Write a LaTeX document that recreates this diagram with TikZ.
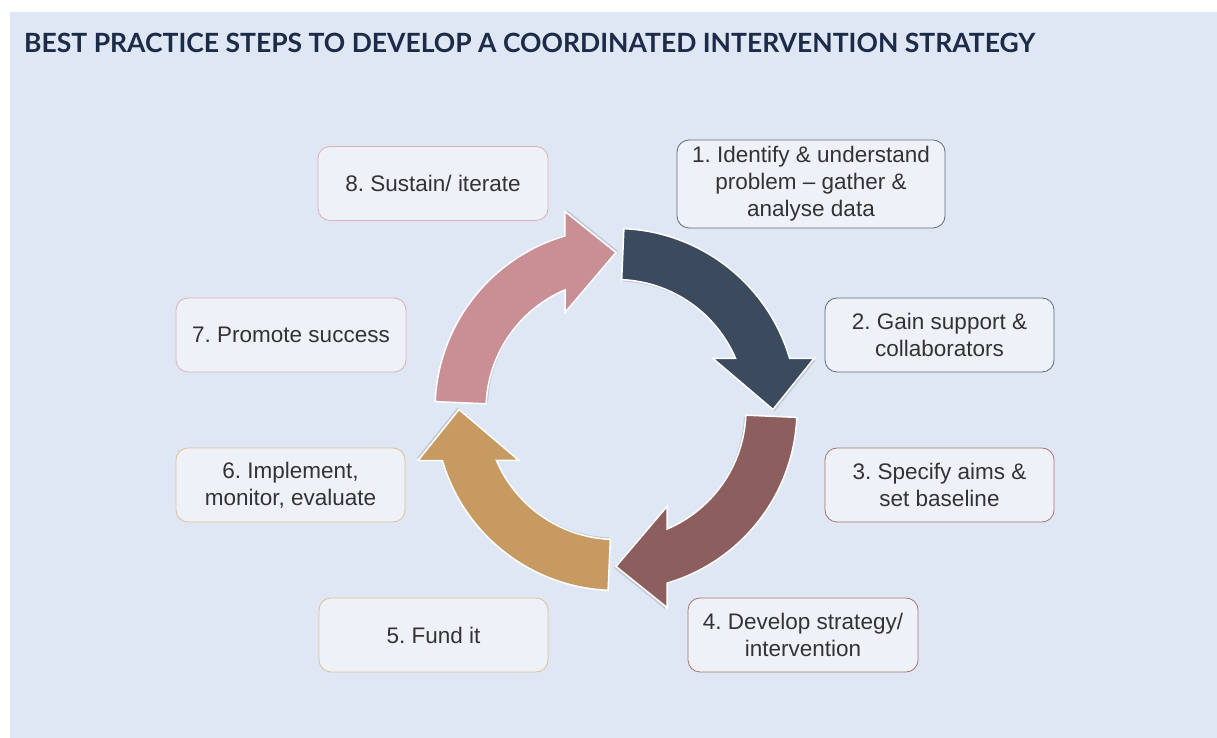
\documentclass[tikz,border=0pt]{standalone}
\usepackage{fontspec}
\setmainfont{Liberation Sans}
\newfontfamily\titlefont{Lato}
\definecolor{bgblue}{HTML}{DEE7F3}
\definecolor{titleblue}{HTML}{1C2B47}
\definecolor{boxfill}{HTML}{EEF2F8}
\definecolor{txt}{HTML}{333333}
\definecolor{arrA}{HTML}{3C4A5E}
\definecolor{arrB}{HTML}{8C5E5E}
\definecolor{arrC}{HTML}{C69A60}
\definecolor{arrD}{HTML}{C98F95}
\definecolor{edgeA}{HTML}{5E6A7C}
\definecolor{edgeB}{HTML}{A87474}
\definecolor{edgeC}{HTML}{DDC09A}
\definecolor{edgeD}{HTML}{DDB0B5}
\tikzset{
  stepbox/.style={draw, fill=boxfill, rounded corners=12pt, line width=0.8pt,
    align=center, text=txt, inner sep=0pt,
    font=\fontsize{22.5}{27}\selectfont},
  cyclearrow/.style={draw=white, line width=1.5pt, line join=miter},
}
\frenchspacing
\begin{document}
\begin{tikzpicture}[x=1pt,y=1pt]
\useasboundingbox (0,0) rectangle (1217,738);
\fill[white] (0,0) rectangle (1217,738);
\fill[bgblue] (10,0) rectangle (1217,726);
\node[anchor=base west, inner sep=0pt, text=titleblue,
  font=\titlefont\bfseries\fontsize{26.5}{31}\selectfont] (title) at (24,685)
  {BEST PRACTICE STEPS TO DEVELOP A COORDINATED INTERVENTION STRATEGY};
% cycle arrows
\foreach \k/\col in {0/arrA,1/arrB,2/arrC,3/arrD}{
  \begin{scope}[shift={(616,328.5)}, rotate=-90*\k]
    \fill[black, opacity=0.12, shift={(1.5pt,-2pt)}]
      (87.5:181pt) arc[start angle=87.5, end angle=16.4, radius=181pt]
      -- (198,51) -- (157,0) -- (97,51) -- (23.1:130pt)
      arc[start angle=23.1, end angle=87.5, radius=130pt] -- cycle;
    \filldraw[cyclearrow, fill=\col]
      (87.5:181pt) arc[start angle=87.5, end angle=16.4, radius=181pt]
      -- (198,51) -- (157,0) -- (97,51) -- (23.1:130pt)
      arc[start angle=23.1, end angle=87.5, radius=130pt] -- cycle;
  \end{scope}
}
% step boxes
\node[stepbox, draw=edgeA, minimum width=268pt, minimum height=88pt] (s1) at (811,554)
  {1. Identify \& understand\\problem -- gather \&\\analyse data};
\node[stepbox, draw=edgeA, minimum width=229pt, minimum height=74pt] (s2) at (939.5,403)
  {2. Gain support \&\\collaborators};
\node[stepbox, draw=edgeB, minimum width=229pt, minimum height=74pt] (s3) at (939.5,253)
  {3. Specify aims \&\\set baseline};
\node[stepbox, draw=edgeB, minimum width=230pt, minimum height=74pt] (s4) at (803,103)
  {4. Develop strategy/\\intervention};
\node[stepbox, draw=edgeC, minimum width=229pt, minimum height=74pt] (s5) at (433.5,103)
  {5. Fund it};
\node[stepbox, draw=edgeC, minimum width=229pt, minimum height=74pt] (s6) at (290.5,253)
  {6. Implement,\\monitor, evaluate};
\node[stepbox, draw=edgeD, minimum width=230pt, minimum height=74pt] (s7) at (291,403)
  {7. Promote success};
\node[stepbox, draw=edgeD, minimum width=230pt, minimum height=74pt] (s8) at (433,554.5)
  {8. Sustain/ iterate};
\end{tikzpicture}
\end{document}
